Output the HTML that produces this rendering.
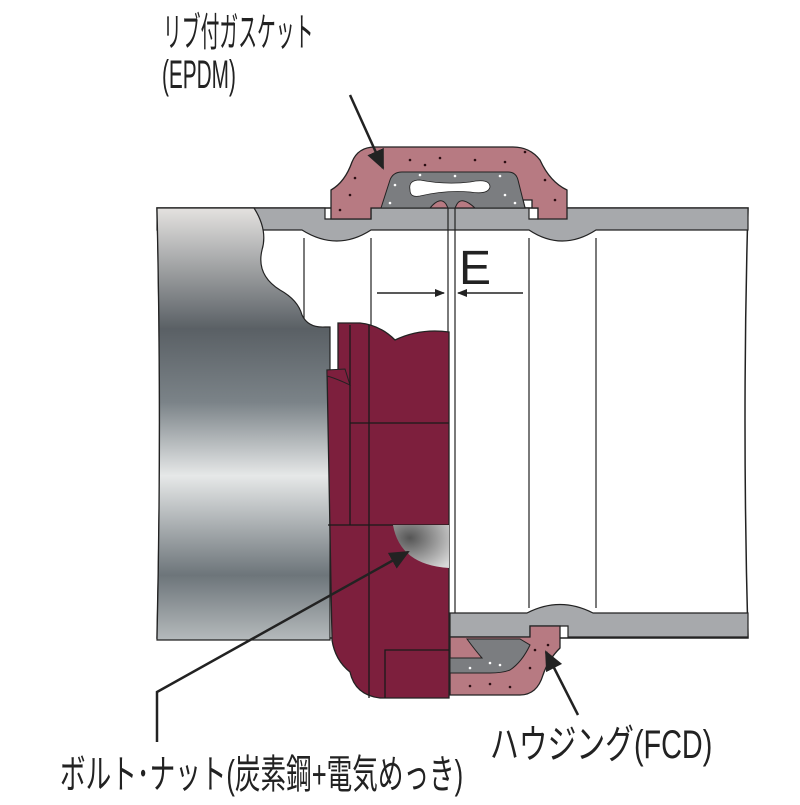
<!DOCTYPE html>
<html><head><meta charset="utf-8"><style>body{margin:0;background:#fff}</style></head><body>
<svg width="800" height="800" viewBox="0 0 800 800" xmlns="http://www.w3.org/2000/svg" font-family="'Liberation Sans', 'Noto Sans CJK JP', sans-serif">
<defs>
<linearGradient id="cyl" x1="0" y1="208" x2="0" y2="640" gradientUnits="userSpaceOnUse">
<stop offset="0" stop-color="#e4e2e0"/><stop offset="0.28" stop-color="#5a6065"/><stop offset="0.45" stop-color="#7b8388"/><stop offset="0.62" stop-color="#e6e8e8"/><stop offset="0.85" stop-color="#6d757a"/><stop offset="1" stop-color="#b5babc"/>
</linearGradient>
<radialGradient id="ball" cx="0.3" cy="0.3" r="0.9"><stop offset="0" stop-color="#555"/><stop offset="1" stop-color="#d8d8d8"/></radialGradient>
<marker id="ah" markerWidth="10" markerHeight="8" refX="9" refY="4" orient="auto" markerUnits="userSpaceOnUse"><path d="M0,0 L10,4 L0,8z" fill="#222"/></marker>
<marker id="big" markerWidth="20" markerHeight="18" refX="18" refY="9" orient="auto" markerUnits="userSpaceOnUse"><path d="M0,0 L20,9 L0,18 z" fill="#222"/></marker>
</defs>
<path d="M157,208 L748,208 Q742,420 748,638 L157,638 Q162,420 157,208z" fill="#fff" stroke="#222" stroke-width="1.5"/>
<path d="M157,208 L325,208 L325,219 L371,219 L371,208 L529,208 L529,219 L538,219 L538,208 L748,208 L748,230 L596,230 Q562,252 529,230 L371,230 Q337,252 302,230 L157,230z" fill="#a7a9ac" stroke="#222" stroke-width="1.2"/>
<path d="M450,613 L527,613 Q560,596 593,613 L748,613 L748,637 L568,637 L568,626 L530,626 L530,637 L450,637z" fill="#a7a9ac" stroke="#222" stroke-width="1.2"/>
<g stroke="#222" stroke-width="1.2">
<line x1="304" y1="238" x2="304" y2="620"/><line x1="371" y1="238" x2="371" y2="620"/>
<line x1="529" y1="238" x2="529" y2="608"/><line x1="596" y1="238" x2="596" y2="608"/>
<line x1="448" y1="208" x2="448" y2="637"/><line x1="455" y1="208" x2="455" y2="613"/>
</g>
<path d="M157,208 L254,208 Q268,230 262,250 Q256,275 280,290 Q298,300 302,315 Q308,328 325,327 L330,327 L330,640 L157,640 Q162,420 157,208z" fill="url(#cyl)" stroke="#222" stroke-width="1.2"/>
<path d="M338,323 L360,323 Q380,325 395,340 Q420,328 449,332 L449,698 L380,698 Q355,695 350,672 Q335,660 332,640 L327,370 L338,370z" fill="#7d1f3d" stroke="#222" stroke-width="1.3"/>
<path d="M327,370 L345,369 L350,385 Q335,378 327,376z" fill="#7d1f3d" stroke="#222" stroke-width="1"/>
<g stroke="#1a1a1a" stroke-width="1.3" fill="none">
<line x1="350" y1="325" x2="350" y2="525"/><line x1="369" y1="325" x2="369" y2="698"/>
<line x1="350" y1="423" x2="449" y2="423"/><line x1="328" y1="525" x2="449" y2="525"/>
<path d="M385,698 L385,650 L449,650"/>
</g>
<path d="M393,525 L449,525 L449,568 Q400,565 393,525z" fill="url(#ball)"/>
<path d="M331,219 L331,190 Q345,182 352,162 Q358,147 375,147 L513,147 Q530,147 540,160 Q550,182 567,190 L567,219 L538,219 L538,208 L532,208 L532,200 L523,200 L525,208 L371,208 L371,219z" fill="#b77a82" stroke="#222" stroke-width="1.3"/>
<path d="M381,208 L390,180 Q393,172 402,172 L508,172 Q516,172 518,180 L525,208 L475,208 Q462,196 457,204 L455,208 L448,208 L446,204 Q440,196 430,208z" fill="#7b7d80" stroke="#222" stroke-width="1"/>
<path d="M410,190 Q408,180 420,180 Q445,185 470,182 Q490,178 490,187 Q488,195 470,192 Q445,190 420,196 Q410,198 410,190z" fill="#fff" stroke="#222" stroke-width="0.8"/>
<g fill="#2b0d12"><circle cx="375" cy="156" r="1.3"/><circle cx="410" cy="160" r="1.3"/><circle cx="440" cy="158" r="1.3"/><circle cx="475" cy="160" r="1.3"/><circle cx="505" cy="162" r="1.3"/><circle cx="525" cy="152" r="1.3"/><circle cx="350" cy="195" r="1.3"/><circle cx="355" cy="178" r="1.3"/><circle cx="545" cy="180" r="1.3"/><circle cx="555" cy="200" r="1.3"/><circle cx="340" cy="210" r="1.3"/><circle cx="425" cy="165" r="1.3"/></g>
<g fill="#fff"><circle cx="395" cy="185" r="1.3"/><circle cx="420" cy="175" r="1.3"/><circle cx="455" cy="176" r="1.3"/><circle cx="500" cy="176" r="1.3"/><circle cx="505" cy="195" r="1.3"/><circle cx="515" cy="203" r="1.3"/><circle cx="390" cy="203" r="1.3"/></g>
<path d="M450,637 L530,637 L530,626 L560,626 L560,648 Q548,660 543,675 Q537,695 520,695 L450,695z" fill="#b77a82" stroke="#222" stroke-width="1.3"/>
<path d="M450,658 L482,658 Q475,650 467,639 L520,639 L530,645 Q522,662 510,670 Q503,673 490,673 L450,673z" fill="#7b7d80" stroke="#222" stroke-width="1"/>
<g fill="#2b0d12"><circle cx="470" cy="686" r="1.3"/><circle cx="490" cy="684" r="1.3"/><circle cx="510" cy="687" r="1.3"/><circle cx="535" cy="650" r="1.3"/><circle cx="548" cy="645" r="1.3"/><circle cx="530" cy="668" r="1.3"/></g>
<g fill="#fff"><circle cx="490" cy="663" r="1.3"/><circle cx="500" cy="665" r="1.3"/><circle cx="470" cy="668" r="1.3"/></g>
<text x="459" y="284" font-size="48" fill="#222">E</text>
<line x1="377" y1="293" x2="444" y2="293" stroke="#222" stroke-width="1.5" marker-end="url(#ah)"/>
<line x1="523" y1="293" x2="458" y2="293" stroke="#222" stroke-width="1.5" marker-end="url(#ah)"/>
<text transform="translate(163,46) scale(0.47,1)" font-size="40" fill="#222">リブ付ガスケット</text>
<text transform="translate(162,88) scale(0.52,1)" font-size="40" fill="#222">(EPDM)</text>
<line x1="350" y1="95" x2="383" y2="168" stroke="#222" stroke-width="2.5" marker-end="url(#big)"/>
<polyline points="157,742 157,692 408,552" fill="none" stroke="#222" stroke-width="2.5" marker-end="url(#big)"/>
<text transform="translate(60,788) scale(0.64,1)" font-size="40" fill="#222">ボルト･ナット(炭素鋼+電気めっき)</text>
<line x1="578" y1="715" x2="546" y2="652" stroke="#222" stroke-width="2.5" marker-end="url(#big)"/>
<text transform="translate(490,758) scale(0.72,1)" font-size="40" fill="#222">ハウジング(FCD)</text>
</svg>
</body></html>
